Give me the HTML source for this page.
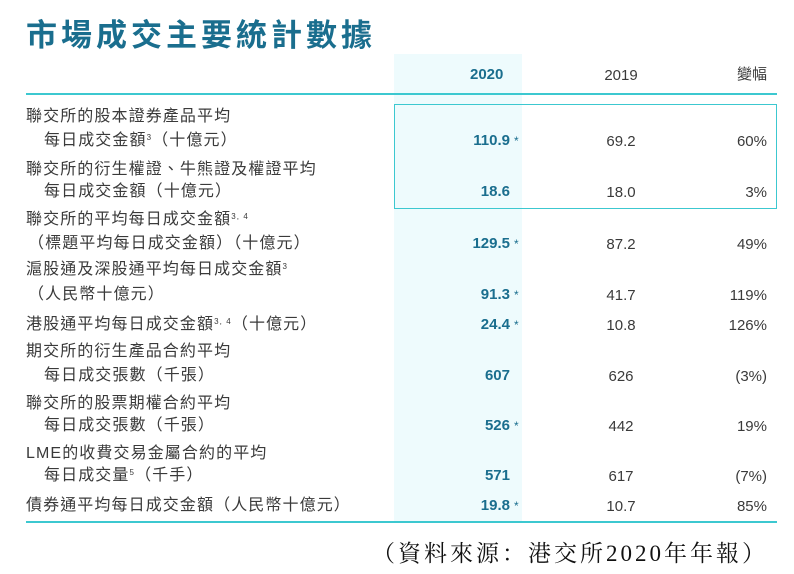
<!DOCTYPE html>
<html><head><meta charset="utf-8"><style>
body{margin:0;width:794px;height:574px;background:#fff;position:relative;overflow:hidden;font-family:"Liberation Sans","Noto Sans CJK TC",sans-serif;color:#3a3a3a}
.a{position:absolute;white-space:nowrap;font-size:16px;line-height:18px;letter-spacing:1.1px}
.v{position:absolute;font-size:15px;line-height:18px;white-space:nowrap;font-weight:bold;color:#1a6e8e;right:284px}
.m{position:absolute;font-size:15px;line-height:18px;width:80px;text-align:center;left:581px}
.c{position:absolute;font-size:15px;line-height:18px;right:27px}
.s{position:absolute;left:514px;font-size:12px;line-height:18px;color:#1a6e8e}
sup{font-size:8px;line-height:0;position:relative;top:-5px;vertical-align:baseline}
</style></head><body>
<div style="position:absolute;left:394px;top:54px;width:128px;height:468px;background:#eefbfd"></div>
<div class="a" style="left:26px;top:17px;font-size:31px;line-height:38px;font-weight:bold;color:#1a6e8e;letter-spacing:4px">市場成交主要統計數據</div>
<div class="a" style="left:470px;top:66px;font-size:15px;letter-spacing:0;font-weight:bold;color:#1a6e8e">2020</div>
<div class="m" style="top:67px">2019</div>
<div class="c" style="top:66px">變幅</div>
<div style="position:absolute;left:26px;top:93px;width:751px;height:2px;background:#3cc8d0"></div>
<div style="position:absolute;left:394px;top:104px;width:381px;height:103px;border:1px solid #3cc8d0"></div>
<div style="position:absolute;left:26px;top:521px;width:751px;height:2px;background:#3cc8d0"></div>

<div class="a" style="left:26px;top:108px">聯交所的股本證券產品平均</div>
<div class="a" style="left:44px;top:132px">每日成交金額<sup>3</sup>（十億元）</div>
<div class="v" style="top:132px">110.9</div><div class="s" style="top:132px">*</div>
<div class="m" style="top:133px">69.2</div><div class="c" style="top:133px">60%</div>

<div class="a" style="left:26px;top:161px">聯交所的衍生權證、牛熊證及權證平均</div>
<div class="a" style="left:44px;top:183px">每日成交金額（十億元）</div>
<div class="v" style="top:183px">18.6</div>
<div class="m" style="top:184px">18.0</div><div class="c" style="top:184px">3%</div>

<div class="a" style="left:26px;top:211px">聯交所的平均每日成交金額<sup>3, 4</sup></div>
<div class="a" style="left:28px;top:235px">（標題平均每日成交金額）（十億元）</div>
<div class="v" style="top:235px">129.5</div><div class="s" style="top:235px">*</div>
<div class="m" style="top:236px">87.2</div><div class="c" style="top:236px">49%</div>

<div class="a" style="left:26px;top:261px">滬股通及深股通平均每日成交金額<sup>3</sup></div>
<div class="a" style="left:28px;top:286px">（人民幣十億元）</div>
<div class="v" style="top:286px">91.3</div><div class="s" style="top:286px">*</div>
<div class="m" style="top:287px">41.7</div><div class="c" style="top:287px">119%</div>

<div class="a" style="left:26px;top:316px">港股通平均每日成交金額<sup>3, 4</sup>（十億元）</div>
<div class="v" style="top:316px">24.4</div><div class="s" style="top:316px">*</div>
<div class="m" style="top:317px">10.8</div><div class="c" style="top:317px">126%</div>

<div class="a" style="left:26px;top:343px">期交所的衍生產品合約平均</div>
<div class="a" style="left:44px;top:367px">每日成交張數（千張）</div>
<div class="v" style="top:367px">607</div>
<div class="m" style="top:368px">626</div><div class="c" style="top:368px">(3%)</div>

<div class="a" style="left:26px;top:395px">聯交所的股票期權合約平均</div>
<div class="a" style="left:44px;top:417px">每日成交張數（千張）</div>
<div class="v" style="top:417px">526</div><div class="s" style="top:417px">*</div>
<div class="m" style="top:418px">442</div><div class="c" style="top:418px">19%</div>

<div class="a" style="left:26px;top:445px">LME的收費交易金屬合約的平均</div>
<div class="a" style="left:44px;top:467px">每日成交量<sup>5</sup>（千手）</div>
<div class="v" style="top:467px">571</div>
<div class="m" style="top:468px">617</div><div class="c" style="top:468px">(7%)</div>

<div class="a" style="left:26px;top:497px">債券通平均每日成交金額（人民幣十億元）</div>
<div class="v" style="top:497px">19.8</div><div class="s" style="top:497px">*</div>
<div class="m" style="top:498px">10.7</div><div class="c" style="top:498px">85%</div>

<div class="a" style="left:372px;top:539px;font-size:23px;line-height:30px;color:#111;font-family:'Liberation Serif','Noto Serif CJK SC',serif;letter-spacing:3px">（資料來源：港交所2020年年報）</div>
</body></html>
